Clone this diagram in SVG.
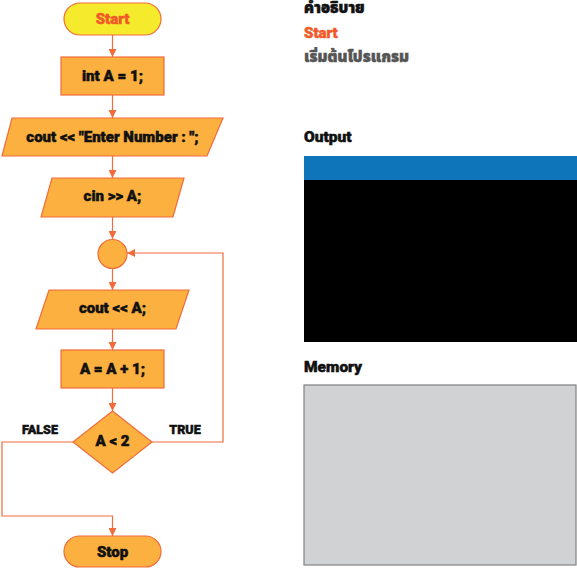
<svg xmlns="http://www.w3.org/2000/svg" width="577" height="569" viewBox="0 0 577 569">
<style>
.n{fill:#fbb040;stroke:#f26b3a;stroke-width:1.2}
.t{font-family:Roboto,"Liberation Sans","Noto Sans Thai","Noto Sans",sans-serif;font-weight:900;font-size:15px;fill:#111;stroke:#111;stroke-width:0.5;text-anchor:middle;dominant-baseline:central}
.l{fill:none;stroke:#f26b3a;stroke-width:1.2}
.h{font-family:Roboto,"Noto Sans Thai","Noto Sans","DejaVu Sans",sans-serif;font-weight:900;font-size:15px;fill:#111;stroke:#111;stroke-width:0.5}
.o{fill:#f15a29;stroke:#f15a29}
.g{fill:#555;stroke:#555}
</style>
<defs>
<marker id="a" markerWidth="8" markerHeight="8" refX="8" refY="4" orient="auto" markerUnits="userSpaceOnUse">
<path d="M0,0L8,4L0,8z" fill="#f26b3a"/>
</marker>
</defs>
<rect width="577" height="569" fill="#fff"/>
<g id="connectors">
<line class="l" x1="112.5" y1="35" x2="112.5" y2="57" marker-end="url(#a)"/>
<line class="l" x1="112.5" y1="95" x2="112.5" y2="118" marker-end="url(#a)"/>
<line class="l" x1="112.5" y1="156" x2="112.5" y2="178" marker-end="url(#a)"/>
<line class="l" x1="112.5" y1="217" x2="112.5" y2="239" marker-end="url(#a)"/>
<line class="l" x1="112.5" y1="268.5" x2="112.5" y2="290" marker-end="url(#a)"/>
<line class="l" x1="112.5" y1="329" x2="112.5" y2="350" marker-end="url(#a)"/>
<line class="l" x1="112.5" y1="388" x2="112.5" y2="411" marker-end="url(#a)"/>
<polyline class="l" points="152,442 223,442 223,253 127,253" marker-end="url(#a)"/>
<polyline class="l" points="73,442 2,442 2,516 112.5,516 112.5,536" marker-end="url(#a)"/>
<text class="t" x="40" y="429" style="font-size:12.5px">FALSE</text>
<text class="t" x="185" y="429" style="font-size:12.5px">TRUE</text>
</g>
<g id="start"><rect class="n" x="64" y="3" width="97" height="32" rx="16" style="fill:#f5ea2c"/><text class="t o" x="112.5" y="19">Start</text></g>
<g id="init"><rect class="n" x="61" y="57" width="103" height="38"/><text class="t" x="112.5" y="76">int A = 1;</text></g>
<g id="prompt"><polygon class="n" points="12,118 223,118 207,156 2,156"/><text class="t" x="112.5" y="137">cout &lt;&lt; "Enter Number : ";</text></g>
<g id="input"><polygon class="n" points="52,178 184,178 173,217 41,217"/><text class="t" x="112.5" y="196">cin &gt;&gt; A;</text></g>
<g id="join"><circle class="n" cx="112.5" cy="254" r="14.5"/></g>
<g id="print"><polygon class="n" points="49,290 189,290 176,329 36,329"/><text class="t" x="112.5" y="308">cout &lt;&lt; A;</text></g>
<g id="inc"><rect class="n" x="61" y="350" width="103" height="38"/><text class="t" x="112.5" y="369">A = A + 1;</text></g>
<g id="cond"><polygon class="n" points="112.5,411 152,442 112.5,473 73,442"/><text class="t" x="112.5" y="441">A &lt; 2</text></g>
<g id="stop"><rect class="n" x="64" y="536" width="97" height="31" rx="15.5"/><text class="t" x="112.5" y="552">Stop</text></g>
<g id="panel">
<text class="h" x="304" y="13">คำอธิบาย</text>
<text class="h o" x="304" y="38">Start</text>
<text class="h g" x="304" y="62">เริ่มต้นโปรแกรม</text>
<text class="h" x="304" y="142" style="font-size:15.5px">Output</text>
<rect x="304" y="156" width="273" height="24" fill="#0e75bb"/>
<rect x="304" y="180" width="273" height="162" fill="#000"/>
<text class="h" x="304" y="372" style="font-size:15.5px">Memory</text>
<rect x="304" y="385" width="272" height="180" fill="#d1d2d4" stroke="#808080" stroke-width="1.2"/>
</g>
</svg>
